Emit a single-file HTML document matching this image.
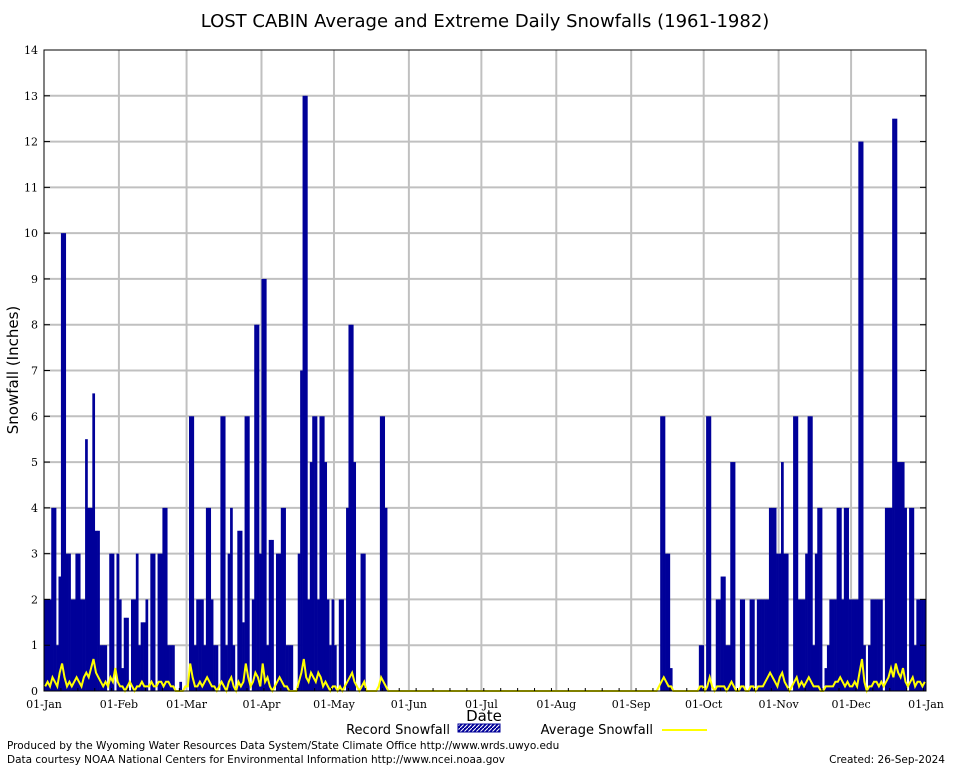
<!DOCTYPE html>
<html><head><meta charset="utf-8"><style>
html,body{margin:0;padding:0;background:#fff;}
svg{display:block;}
.tk{font-family:"DejaVu Serif","Liberation Serif",serif;font-size:11px;fill:#000;}
.sn{font-family:"DejaVu Sans","Liberation Sans",sans-serif;fill:#000;}
</style></head><body>
<svg id="chart" width="954" height="768" xmlns="http://www.w3.org/2000/svg">
<defs><pattern id="hatch" width="4" height="4" patternUnits="userSpaceOnUse"><rect width="4" height="4" fill="#000099"/><path d="M0 4L4 0" stroke="#fff" stroke-width="1"/></pattern></defs>
<rect width="954" height="768" fill="#fff"/>
<text class="sn" x="485" y="27" font-size="18" text-anchor="middle">LOST CABIN Average and Extreme Daily Snowfalls (1961-1982)</text>
<g id="grid"></g><g id="bars"></g><g id="avg"></g><g id="axes"></g>
<text class="sn" font-size="15" transform="translate(18,370) rotate(-90)" text-anchor="middle">Snowfall (Inches)</text>
<text class="sn" x="484" y="721" font-size="15" text-anchor="middle">Date</text>
<g>
<text class="sn" x="450" y="734" font-size="13" text-anchor="end">Record Snowfall</text>
<rect x="458" y="724" width="42" height="8" fill="url(#hatch)" stroke="#000099"/>
<text class="sn" x="653" y="734" font-size="13" text-anchor="end">Average Snowfall</text>
<line x1="662" y1="730" x2="707" y2="730" stroke="#ffff00" stroke-width="2"/>
</g>
<text class="sn" x="7" y="749" font-size="10.5">Produced by the Wyoming Water Resources Data System/State Climate Office http://www.wrds.uwyo.edu</text>
<text class="sn" x="7" y="763" font-size="10.5">Data courtesy NOAA National Centers for Environmental Information http://www.ncei.noaa.gov</text>
<text class="sn" x="945" y="763" font-size="10.5" text-anchor="end">Created:  26-Sep-2024</text>
</svg>
<script>
const monthLabels=["01-Jan","01-Feb","01-Mar","01-Apr","01-May","01-Jun","01-Jul","01-Aug","01-Sep","01-Oct","01-Nov","01-Dec","01-Jan"];
const monthDays=[0,31,59,90,120,151,181,212,243,273,304,334,365];
const yTicks=[0,1,2,3,4,5,6,7,8,9,10,11,12,13,14];
const records=[
2,2,2,4,4,1,2.5,10,10,3,
3,2,2,3,3,2,2,5.5,4,4,
6.5,3.5,3.5,1,1,1,0,3,3,0,
3,2,0.5,1.6,1.6,0,2,2,3,1,
1.5,1.5,2,0,3,3,0,3,3,4,
4,1,1,1,0,0,0.2,0,0,0,
6,6,1,2,2,2,1,4,4,2,
1,1,0,6,6,1,3,4,1,0,
3.5,3.5,1.5,6,6,0,2,8,8,3,
9,9,1,3.3,3.3,0,3,3,4,4,
1,1,1,0,0,3,7,13,13,2,
5,6,6,2,6,6,5,2,1,2,
1,0,2,2,0,4,8,8,5,0,
0,3,3,0,0,0,0,0,0,6,
6,4,0,0,0,0,0,0,0,0,
0,0,0,0,0,0,0,0,0,0,
0,0,0,0,0,0,0,0,0,0,
0,0,0,0,0,0,0,0,0,0,
0,0,0,0,0,0,0,0,0,0,
0,0,0,0,0,0,0,0,0,0,
0,0,0,0,0,0,0,0,0,0,
0,0,0,0,0,0,0,0,0,0,
0,0,0,0,0,0,0,0,0,0,
0,0,0,0,0,0,0,0,0,0,
0,0,0,0,0,0,0,0,0,0,
0,0,0,0,0,6,6,3,3,0.5,
0,0,0,0,0,0,0,0,0,0,
0,1,1,0,6,6,0,0,2,2,
2.5,2.5,1,1,5,5,0,0,2,2,
0,0,2,2,0,2,2,2,2,2,
4,4,4,3,3,5,3,3,0,0,
6,6,2,2,2,3,6,6,1,3,
4,4,0,0.5,1,2,2,2,4,4,
2,4,4,2,2,2,2,12,12,1,
0,1,2,2,2,2,2,0,4,4,
4,12.5,12.5,5,5,5,4,0,4,4,
1,2,2,2,2];
const averages=[
0.1,0.2,0.1,0.3,0.2,0.1,0.4,0.6,0.3,0.1,
0.2,0.1,0.2,0.3,0.2,0.1,0.3,0.4,0.3,0.5,
0.7,0.4,0.3,0.2,0.1,0.2,0.1,0.3,0.2,0.5,
0.2,0.1,0.1,0.0,0.1,0.2,0.1,0.0,0.1,0.1,
0.2,0.1,0.1,0.1,0.2,0.1,0.1,0.2,0.2,0.1,
0.2,0.2,0.1,0.1,0.0,0.0,0.0,0.0,0.1,0.1,
0.6,0.3,0.1,0.1,0.2,0.1,0.2,0.3,0.2,0.1,
0.1,0.0,0.1,0.2,0.1,0.0,0.2,0.3,0.1,0.0,
0.2,0.1,0.2,0.6,0.3,0.1,0.2,0.4,0.3,0.1,
0.6,0.2,0.3,0.1,0.0,0.1,0.2,0.3,0.2,0.1,
0.1,0.0,0.0,0.0,0.0,0.2,0.4,0.7,0.3,0.2,
0.4,0.3,0.2,0.4,0.3,0.1,0.2,0.1,0.0,0.1,
0.1,0.0,0.1,0.0,0.1,0.2,0.3,0.4,0.2,0.1,
0.0,0.1,0.2,0.0,0.0,0.0,0.0,0.0,0.1,0.3,
0.2,0.1,0,0,0,0,0,0,0,0,
0,0,0,0,0,0,0,0,0,0,
0,0,0,0,0,0,0,0,0,0,
0,0,0,0,0,0,0,0,0,0,
0,0,0,0,0,0,0,0,0,0,
0,0,0,0,0,0,0,0,0,0,
0,0,0,0,0,0,0,0,0,0,
0,0,0,0,0,0,0,0,0,0,
0,0,0,0,0,0,0,0,0,0,
0,0,0,0,0,0,0,0,0,0,
0,0,0,0,0,0,0,0,0,0,
0,0,0,0,0.1,0.2,0.3,0.2,0.1,0.1,
0,0,0,0,0,0,0,0,0,0,
0,0.1,0.1,0,0.1,0.3,0.1,0,0.1,0.1,
0.1,0.1,0,0.1,0.2,0.1,0,0,0.1,0.1,
0,0,0.1,0.1,0,0.1,0.1,0.1,0.2,0.3,
0.4,0.3,0.2,0.1,0.3,0.4,0.2,0.1,0,0.1,
0.2,0.3,0.1,0.2,0.1,0.2,0.3,0.2,0.1,0.1,
0.1,0.0,0.0,0.1,0.1,0.1,0.1,0.2,0.2,0.3,
0.2,0.1,0.2,0.1,0.1,0.2,0.1,0.4,0.7,0.2,
0.0,0.1,0.1,0.2,0.2,0.1,0.2,0.1,0.2,0.3,
0.5,0.3,0.6,0.4,0.3,0.5,0.2,0.1,0.2,0.3,
0.1,0.2,0.2,0.1,0.2];

const NS="http://www.w3.org/2000/svg";
const L=44,R=926,T=50,B=691,YMAX=14,NDAYS=365;
function xs(d){return L+d*(R-L)/NDAYS;}
function ys(v){return B-v*(B-T)/YMAX;}
function mk(tag,attrs,parent){const e=document.createElementNS(NS,tag);for(const k in attrs)e.setAttribute(k,attrs[k]);parent.appendChild(e);return e;}
const grid=document.getElementById('grid'),bars=document.getElementById('bars'),avgG=document.getElementById('avg'),axes=document.getElementById('axes');
yTicks.forEach(v=>{
  if(v>0&&v<YMAX){const g=mk('line',{x1:L,x2:R,y1:ys(v),y2:ys(v),stroke:'#c0c0c0','stroke-width':2},grid);
  
  }
  const t=mk('text',{x:L-6,y:ys(v)+4,'text-anchor':'end',class:'tk'},axes);t.textContent=v;
  
  
  const tl=mk('line',{x1:L,x2:L+6,y1:ys(v),y2:ys(v),stroke:'#000'},axes);
  
  
  const tr=mk('line',{x1:R-6,x2:R,y1:ys(v),y2:ys(v),stroke:'#000'},axes);
  
  
});
monthDays.forEach((d,i)=>{
  if(i>0&&i<monthDays.length-1){const g=mk('line',{x1:xs(d),x2:xs(d),y1:T,y2:B,stroke:'#c0c0c0','stroke-width':2},grid);
  
  }
  const t=mk('text',{x:xs(d),y:708,'text-anchor':'middle',class:'tk'},axes);t.textContent=monthLabels[i];
  
  
});
for(let d=0;d<NDAYS;d+=7){const m=mk('line',{x1:xs(d),x2:xs(d),y1:B-3,y2:B,stroke:'#000'},axes);
  
  }
records.forEach((v,d)=>{
  if(v<=0)return;
  const r=mk('rect',{x:xs(d),y:ys(v),width:xs(d+1)-xs(d)+0.3,height:B-ys(v),fill:'#000099'},bars);
  
  
});
let pts=averages.map((v,d)=>xs(d+0.5).toFixed(1)+','+ys(v).toFixed(1)).join(' ');
const pl=mk('polyline',{points:pts,fill:'none',stroke:'#ffff00','stroke-width':2},avgG);


const fr=mk('rect',{x:L,y:T,width:R-L,height:B-T,fill:'none',stroke:'#000','stroke-width':1},axes);


</script>
</body></html>
